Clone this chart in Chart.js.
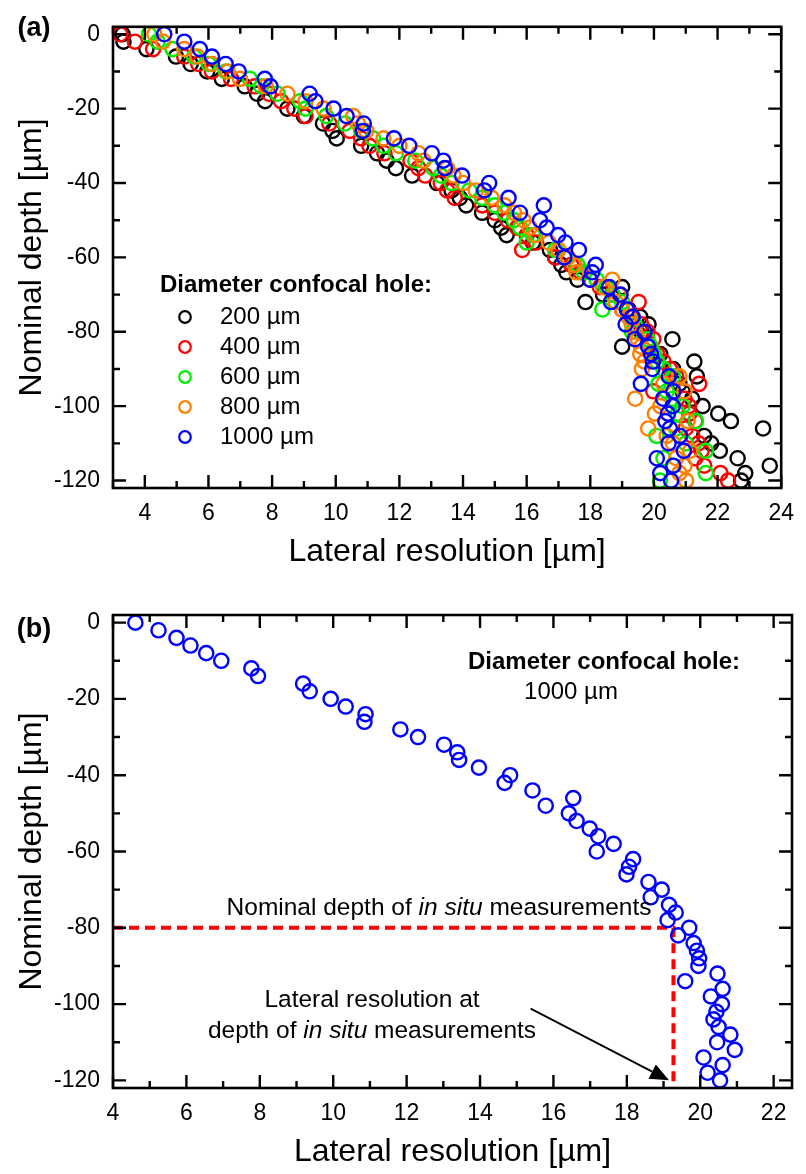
<!DOCTYPE html>
<html>
<head>
<meta charset="utf-8">
<script src="https://cdn.jsdelivr.net/npm/chart.js@4.4.1/dist/chart.umd.min.js"></script>
<style>
  html, body { margin: 0; padding: 0; background: #fff; }
  #wrap { position: relative; width: 806px; height: 1174px; }
  .panel { position: absolute; left: 0; width: 806px; height: 587px; }
  #panel-a { top: 0; }
  #panel-b { top: 587px; }
</style>
</head>
<body>
<div id="wrap">
  <div class="panel" id="panel-a"><canvas id="chart-a" width="806" height="587"></canvas></div>
  <div class="panel" id="panel-b"><canvas id="chart-b" width="806" height="587"></canvas></div>
</div>
<script>
// Nominal depth of every measurement (um), shared by all series
const depth = [0, -2, -4, -6, -8, -10, -12, -14, -16, -18,
  -20, -22, -24, -26, -28, -30, -32, -34, -36, -38,
  -40, -42, -44, -46, -48, -50, -52, -54, -56, -58,
  -60, -62, -64, -66, -68, -70, -72, -74, -76, -78,
  -80, -82, -84, -86, -88, -90, -92, -94, -96, -98,
  -100, -102, -104, -106, -108, -110, -112, -114, -116, -118,
  -120];

// Lateral resolution (um) per confocal hole diameter
const res200 = [3.30, 3.33, 4.05, 4.98, 5.44, 5.96, 6.42, 7.14, 7.53, 7.78,
  8.48, 9.00, 9.60, 9.90, 10.03, 10.80, 11.30, 11.60, 11.89, 12.40,
  13.18, 13.64, 13.90, 14.10, 14.60, 15.00, 15.20, 15.37, 16.20, 16.73,
  16.90, 17.09, 17.25, 17.60, 19.00, 18.40, 17.85, 19.20, 19.57, 19.83,
  19.60, 20.58, 19.00, 20.20, 21.27, 20.60, 21.35, 20.80, 20.90, 21.20,
  21.53, 22.02, 22.42, 23.43, 21.58, 21.80, 22.07, 22.63, 23.64, 22.87,
  22.74];
const res400 = [3.23, 3.69, 4.26, 5.24, 5.68, 6.11, 6.71, 7.45, 7.90, 8.28,
  8.70, 9.05, 9.80, 10.44, 10.80, 11.06, 11.53, 12.35, 12.60, 12.81,
  13.30, 13.50, 13.74, 14.60, 15.00, 15.40, 15.70, 16.00, 16.30, 15.86,
  16.90, 17.40, 17.70, 18.00, 18.30, 18.70, 19.52, 19.00, 19.30, 19.60,
  19.80, 19.98, 19.90, 20.10, 20.30, 20.50, 20.70, 21.42, 19.98, 20.96,
  21.10, 21.11, 21.30, 21.00, 21.20, 21.40, 21.50, 21.30, 21.58, 22.09,
  22.33];
const res600 = [4.13, 4.40, 4.87, 5.55, 6.01, 6.55, 7.30, 7.66, 8.17, 8.88,
  9.05, 9.70, 10.29, 10.80, 11.17, 11.50, 11.89, 12.50, 13.07, 13.30,
  13.64, 14.20, 14.60, 15.00, 15.30, 15.60, 15.80, 16.20, 16.00, 16.90,
  17.20, 17.60, 17.80, 18.20, 18.50, 18.70, 19.00, 18.38, 19.20, 19.40,
  19.31, 19.80, 19.90, 20.00, 20.10, 20.30, 20.60, 20.14, 20.40, 20.60,
  20.90, 20.75, 21.32, 20.70, 20.08, 21.00, 21.63, 20.30, 20.60, 21.63,
  20.19];
const res800 = [4.30, 4.57, 5.24, 5.65, 6.11, 6.61, 6.99, 7.80, 8.48, 9.05,
  9.62, 10.55, 10.70, 10.96, 11.50, 12.00, 12.60, 12.76, 13.50, 13.70,
  14.00, 14.40, 14.90, 15.30, 15.60, 15.90, 16.10, 16.27, 16.70, 17.00,
  17.30, 17.50, 17.56, 18.69, 18.40, 18.90, 18.80, 19.00, 19.20, 19.30,
  19.40, 19.50, 19.60, 19.57, 19.70, 19.62, 20.80, 20.30, 20.96, 19.41,
  20.20, 20.03, 21.06, 19.82, 20.40, 20.60, 21.14, 20.70, 20.96, 20.80,
  21.01];
const res1000 = [4.61, 5.24, 5.73, 6.11, 6.54, 6.95, 7.77, 7.95, 9.18, 9.36,
  9.93, 10.34, 10.88, 10.85, 11.83, 12.31, 13.02, 13.38, 13.43, 13.97,
  14.82, 14.67, 15.43, 16.54, 15.79, 16.42, 16.63, 16.99, 17.22, 17.64,
  17.18, 18.17, 18.06, 17.99, 18.59, 18.95, 18.65, 19.15, 19.33, 19.11,
  19.70, 19.40, 19.82, 19.91, 19.97, 19.95, 20.47, 19.59, 20.61, 20.29,
  20.59, 20.44, 20.36, 20.50, 20.82, 20.46, 20.94, 20.09, 20.61, 20.20,
  20.54];

const holeLabels = ['200 µm', '400 µm', '600 µm', '800 µm', '1000 µm'];
const holeColors = ['#000000', '#ff0000', '#00ee00', '#ff8000', '#0000ff'];
const holeSeries = [res200, res400, res600, res800, res1000];

// Axis ticks
const xTicksA = [3, 4, 5, 6, 7, 8, 9, 10, 11, 12, 13, 14, 15, 16, 17, 18, 19, 20, 21, 22, 23, 24];
const xTicksB = [4, 5, 6, 7, 8, 9, 10, 11, 12, 13, 14, 15, 16, 17, 18, 19, 20, 21, 22];
const yTicks = [0, -10, -20, -30, -40, -50, -60, -70, -80, -90, -100, -110, -120];

// Panel (b): guide at the in situ measurement depth, and the arrow
const guideX = [4, 19.27, 19.27];
const guideY = [-80, -80, -122];
const arrowFrom = [15.38, -101.2];
const arrowTo = [19.15, -120];

const FAMILY = '"Liberation Sans", Arial, Helvetica, sans-serif';
Chart.defaults.font.family = FAMILY;
Chart.defaults.color = '#000';

function toPoints(xs) {
    return depth.map((d, i) => ({ x: xs[i], y: d }));
}

// draws the box frame and inward ticks on all four sides
const frameTicks = {
    id: 'frameTicks',
    afterDatasetsDraw(chart) {
        const { ctx, chartArea: a, scales: { x, y } } = chart;
        ctx.save();
        ctx.strokeStyle = '#000';
        ctx.lineWidth = 2.4;
        ctx.beginPath();
        x.ticks.forEach(t => {
            const px = x.getPixelForValue(t.value);
            const len = t.value % 2 === 0 ? 13 : 7;
            ctx.moveTo(px, a.bottom); ctx.lineTo(px, a.bottom - len);
            ctx.moveTo(px, a.top); ctx.lineTo(px, a.top + len);
        });
        y.ticks.forEach(t => {
            const py = y.getPixelForValue(t.value);
            const len = t.value % 20 === 0 ? 13 : 7;
            ctx.moveTo(a.left, py); ctx.lineTo(a.left + len, py);
            ctx.moveTo(a.right, py); ctx.lineTo(a.right - len, py);
        });
        ctx.stroke();
        ctx.lineWidth = 2.6;
        ctx.strokeRect(a.left, a.top, a.right - a.left, a.bottom - a.top);
        ctx.restore();
    }
};

// text runs, some in italic
function drawRuns(ctx, runs, cx, cy, size) {
    const fontOf = r => (r.italic ? 'italic ' : '') + (r.bold ? 'bold ' : '') + size + 'px ' + FAMILY;
    let total = 0;
    runs.forEach(r => { ctx.font = fontOf(r); total += ctx.measureText(r.t).width; });
    let x = cx - total / 2;
    ctx.textAlign = 'left';
    ctx.textBaseline = 'middle';
    runs.forEach(r => {
        ctx.font = fontOf(r);
        ctx.fillText(r.t, x, cy);
        x += ctx.measureText(r.t).width;
    });
}

// panel letters, notes, legend and arrow
const notes = {
    id: 'notes',
    afterDraw(chart, args, opts) {
        const ctx = chart.ctx;
        ctx.save();
        ctx.fillStyle = '#000';
        (opts.texts || []).forEach(n => drawRuns(ctx, n.runs, n.x, n.y, n.size));

        if (opts.legend) {
            const lg = opts.legend;
            chart.data.datasets.forEach((ds, i) => {
                if (!ds.inLegend) return;
                const y = lg.top + i * lg.rowH;
                ctx.beginPath();
                ctx.arc(lg.markerX, y, 5.8, 0, Math.PI * 2);
                ctx.strokeStyle = ds.borderColor;
                ctx.lineWidth = 2.2;
                ctx.stroke();
                ctx.fillStyle = '#000';
                ctx.font = lg.size + 'px ' + FAMILY;
                ctx.textAlign = 'left';
                ctx.textBaseline = 'middle';
                ctx.fillText(ds.label, lg.textX, y);
            });
        }

        if (opts.arrow) {
            const { x, y } = chart.scales;
            const x0 = x.getPixelForValue(opts.arrow.from[0]);
            const y0 = y.getPixelForValue(opts.arrow.from[1]);
            const x1 = x.getPixelForValue(opts.arrow.to[0]);
            const y1 = y.getPixelForValue(opts.arrow.to[1]);
            const ang = Math.atan2(y1 - y0, x1 - x0);
            const head = 19, half = 8;
            const bx = x1 - head * Math.cos(ang), by = y1 - head * Math.sin(ang);
            ctx.strokeStyle = '#000';
            ctx.lineWidth = 1.8;
            ctx.beginPath();
            ctx.moveTo(x0, y0);
            ctx.lineTo(bx, by);
            ctx.stroke();
            ctx.beginPath();
            ctx.moveTo(x1, y1);
            ctx.lineTo(bx + half * Math.sin(ang), by - half * Math.cos(ang));
            ctx.lineTo(bx - half * Math.sin(ang), by + half * Math.cos(ang));
            ctx.closePath();
            ctx.fillStyle = '#000';
            ctx.fill();
        }
        ctx.restore();
    }
};

function makeScales(xMin, xMax, xTicks, plotBottom, canvasH, xTitlePad) {
    return {
        x: {
            type: 'linear',
            min: xMin,
            max: xMax,
            grid: { display: false, drawTicks: false },
            border: { display: false },
            afterBuildTicks: s => { s.ticks = xTicks.map(v => ({ value: v })); },
            afterFit: s => { s.height = canvasH - plotBottom; },
            ticks: {
                autoSkip: false,
                maxRotation: 0,
                padding: 12,
                font: { size: 23 },
                callback: v => (v % 2 === 0 ? String(v) : '')
            },
            title: {
                display: true,
                text: 'Lateral resolution [µm]',
                font: { size: 32 },
                padding: { top: 0, bottom: xTitlePad }
            }
        },
        y: {
            type: 'linear',
            min: -122,
            max: 2,
            grid: { display: false, drawTicks: false },
            border: { display: false },
            afterBuildTicks: s => { s.ticks = yTicks.map(v => ({ value: v })); },
            afterFit: s => { s.width = 113; },
            ticks: {
                autoSkip: false,
                padding: 13,
                font: { size: 23 },
                callback: v => (v % 20 === 0 ? String(v) : '')
            },
            title: {
                display: true,
                text: 'Nominal depth [µm]',
                font: { size: 32 },
                padding: { top: 13, bottom: 0 }
            }
        }
    };
}

const pointStyle = {
    backgroundColor: 'rgba(0,0,0,0)',
    borderWidth: 2.4,
    pointRadius: 7.1,
    pointHoverRadius: 7.1,
    showLine: false
};

// Panel (a): all hole diameters
new Chart(document.getElementById('chart-a'), {
    type: 'scatter',
    data: {
        datasets: holeSeries.map((xs, i) => Object.assign({
            label: holeLabels[i],
            data: toPoints(xs),
            borderColor: holeColors[i],
            order: holeSeries.length - i,
            inLegend: true
        }, pointStyle))
    },
    options: {
        responsive: false,
        animation: false,
        devicePixelRatio: 1,
        events: [],
        clip: false,
        layout: { padding: { top: 14, right: 14, left: 0, bottom: 0 } },
        scales: makeScales(3, 24, xTicksA, 488, 587, 16),
        plugins: {
            legend: { display: false },
            tooltip: { enabled: false },
            notes: {
                texts: [
                    { runs: [{ t: '(a)', bold: true }], x: 34, y: 29, size: 27 },
                    { runs: [{ t: 'Diameter confocal hole:', bold: true }], x: 296, y: 285, size: 24 }
                ],
                legend: { top: 317, rowH: 30, markerX: 185, textX: 220, size: 24 }
            }
        }
    },
    plugins: [frameTicks, notes]
});

// Panel (b): 1000 um hole only, with the in situ depth guide
new Chart(document.getElementById('chart-b'), {
    type: 'scatter',
    data: {
        datasets: [
            Object.assign({
                label: holeLabels[4],
                data: toPoints(res1000),
                borderColor: holeColors[4],
                order: 0
            }, pointStyle),
            {
                label: 'in situ depth',
                data: guideX.map((x, i) => ({ x: x, y: guideY[i] })),
                showLine: true,
                borderColor: '#ff0000',
                borderWidth: 4,
                borderDash: [10, 6],
                pointRadius: 0,
                order: 1
            }
        ]
    },
    options: {
        responsive: false,
        animation: false,
        devicePixelRatio: 1,
        events: [],
        clip: false,
        layout: { padding: { top: 28, right: 14, left: 0, bottom: 0 } },
        scales: makeScales(4, 22.5, xTicksB, 501, 587, 3),
        plugins: {
            legend: { display: false },
            tooltip: { enabled: false },
            notes: {
                texts: [
                    { runs: [{ t: '(b)', bold: true }], x: 34, y: 43, size: 27 },
                    { runs: [{ t: 'Diameter confocal hole:', bold: true }], x: 604, y: 75, size: 24 },
                    { runs: [{ t: '1000 µm' }], x: 571, y: 105, size: 24 },
                    { runs: [{ t: 'Nominal depth of ' }, { t: 'in situ', italic: true }, { t: ' measurements' }], x: 439, y: 321, size: 24.5 },
                    { runs: [{ t: 'Lateral resolution at' }], x: 372, y: 413, size: 24.5 },
                    { runs: [{ t: 'depth of ' }, { t: 'in situ', italic: true }, { t: ' measurements' }], x: 372, y: 444, size: 24.5 }
                ],
                arrow: { from: arrowFrom, to: arrowTo }
            }
        }
    },
    plugins: [frameTicks, notes]
});
</script>
</body>
</html>
